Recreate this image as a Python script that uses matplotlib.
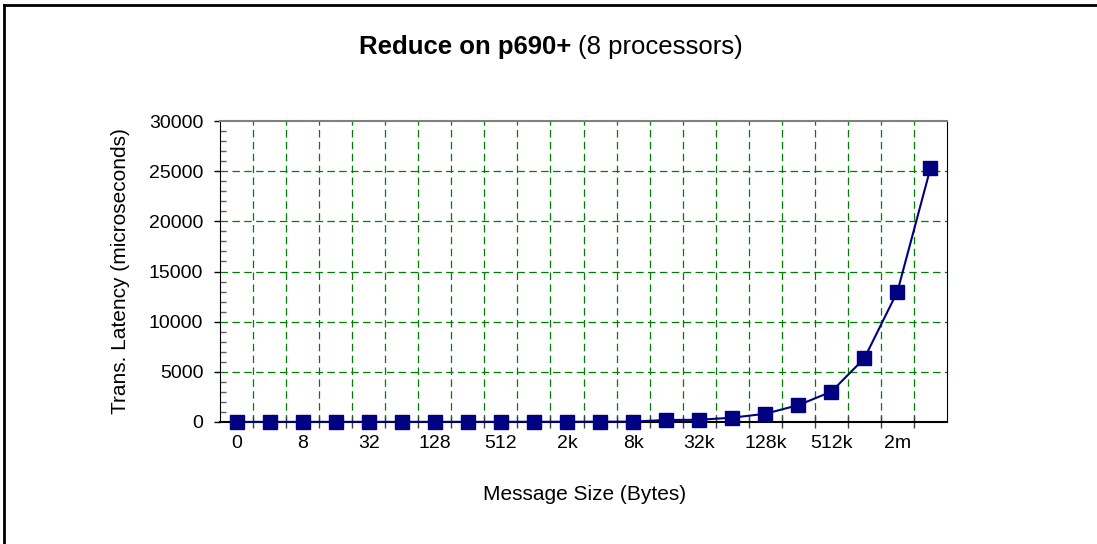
import matplotlib
matplotlib.use('Agg')
import matplotlib.pyplot as plt
from matplotlib.ticker import MultipleLocator, FixedLocator

# -- Data
sizes = ['0', '4', '8', '16', '32', '64', '128', '256', '512', '1k', '2k', '4k',
         '8k', '16k', '32k', '64k', '128k', '256k', '512k', '1m', '2m', '4m']
latency = [10, 10, 10, 11, 12, 12, 13, 14, 16, 19, 25, 30,
           40, 200, 220, 430, 820, 1680, 3020, 6350, 13000, 25300]
shown_labels = ['0', '8', '32', '128', '512', '2k', '8k', '32k', '128k', '512k', '2m']

plt.rcParams['font.family'] = ['Liberation Sans', 'DejaVu Sans']

fig = plt.figure(figsize=[10.97, 5.44], dpi=100)
fig.patch.set_facecolor('white')

W, H = 1097., 544.
left, right, top, bottom = 220, 947, 121, 422
ax = fig.add_axes([left/W, 1-bottom/H, (right-left)/W, (bottom-top)/H])

xpos = list(range(len(sizes)))
ax.plot(xpos, latency, color='#000080', lw=1.5, marker='s', ms=9.5,
        markerfacecolor='#000080', markeredgecolor='#000080', zorder=5, clip_on=False)

# -- Axes limits / ticks
ax.set_xlim(-0.5, len(sizes)-0.5)
ax.set_ylim(0, 30000)
ax.yaxis.set_major_locator(MultipleLocator(5000))
ax.yaxis.set_minor_locator(MultipleLocator(1000))
ax.tick_params(axis='y', which='major', direction='out', length=4, width=1, labelsize=14, pad=8)
ax.tick_params(axis='y', which='minor', direction='in', length=4, width=1, color='#606060')

ax.set_xticks([i for i in xpos if i % 2 == 0])
ax.set_xticklabels(shown_labels)
ax.xaxis.set_minor_locator(FixedLocator([i+0.5 for i in xpos[:-1]]))
ax.tick_params(axis='x', which='major', length=0, labelsize=14, pad=9)
ax.tick_params(axis='x', which='minor', direction='inout', length=8, width=1, color='#404040')

# -- Grid
for y in range(5000, 30000, 5000):
    ax.axhline(y, color='#008000', ls=(0, (6, 3.5)), lw=0.9, zorder=1)
for i in xpos[:-1]:
    ax.axvline(i+0.5, color='#008000', ls=(0, (6, 3.5)), lw=0.9, zorder=1)

# -- Spines
ax.spines['top'].set_color('#808080')
ax.spines['top'].set_linewidth(1.5)
ax.spines['right'].set_color('black')
ax.spines['left'].set_color('black')
ax.spines['bottom'].set_color('black')
ax.spines['bottom'].set_linewidth(1.5)

ax.set_ylabel('Trans. Latency (microseconds)', fontsize=15, va='center')
ax.yaxis.set_label_coords((120-left)/(right-left), 0.5)
ax.set_xlabel('Message Size (Bytes)', fontsize=15, va='center')
ax.xaxis.set_label_coords((585-left)/(right-left), -(494-bottom)/(bottom-top))

# -- Title: bold part + normal part
fig.canvas.draw()
renderer = fig.canvas.get_renderer()
t1 = fig.text(0, 1-47/H, 'Reduce on p690+ ', fontsize=18.5, fontweight='bold', va='center')
t2 = fig.text(0, 1-47/H, '(8 processors)', fontsize=18.5, va='center')
w1 = t1.get_window_extent(renderer).width
w2 = t2.get_window_extent(renderer).width
x0 = 551 - (w1 + w2)/2
t1.set_x(x0/W)
t2.set_x((x0 + w1)/W)

# -- Outer frame (left and top edges visible)
fig.add_artist(plt.Line2D([4/W, 4/W], [0, 1-5/H], color='black', lw=2))
fig.add_artist(plt.Line2D([4/W, 1], [1-5/H, 1-5/H], color='black', lw=2))

plt.savefig('out.png', dpi=100, facecolor='white')
